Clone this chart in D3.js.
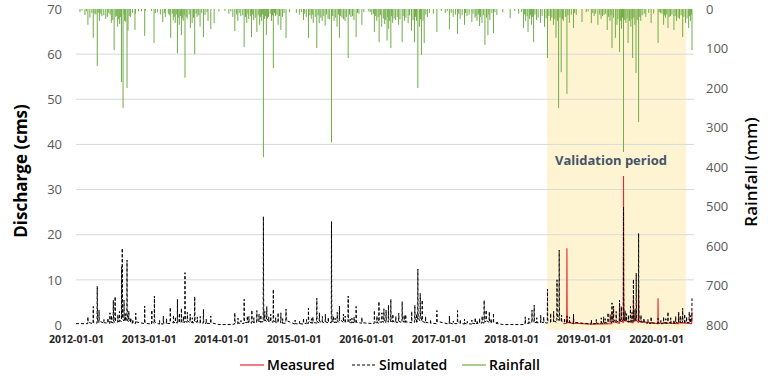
<!DOCTYPE html>
<html><head><meta charset="utf-8">
<script src="https://cdn.jsdelivr.net/npm/d3@7"></script>
<style>
html,body{margin:0;padding:0;background:#fff;}
svg{display:block;font-family:"Open Sans","Noto Sans",sans-serif;}
</style></head>
<body><svg id="c" width="775" height="379"></svg>
<script>
// ---- data (day = days since 2012-01-01) ----
const startDate = "2012-01-01";
const endDate = "2020-06-30";
const validationStart = "2018-07-01";
const validationEnd = "2020-06-01";
const leftTicks = [0,10,20,30,40,50,60,70];
const rightTicks = [0,100,200,300,400,500,600,700,800];
const xTickLabels = ["2012-01-01","2013-01-01","2014-01-01","2015-01-01","2016-01-01","2017-01-01","2018-01-01","2019-01-01","2020-01-01"];
const seriesNames = ["Measured","Simulated","Rainfall"];

// rainfall events [day, mm] - larger events
const rainfall = [
[20,8],[45,15],[60,40],[70,22],[87,73],[95,12],[107,144],[118,30],[130,18],[150,25],[165,10],[178,35],[185,28],[192,104],[200,20],[210,45],[220,38],[229,185],[237,251],[245,30],[257,200],[262,55],[275,20],[297,53],[300,12],[330,6],[346,68],[350,4],
[380,5],[393,86],[400,10],[425,14],[437,33],[450,20],[465,12],[477,73],[490,28],[500,35],[511,112],[520,40],[531,66],[540,30],[549,174],[560,25],[576,48],[585,35],[598,114],[610,20],[625,45],[642,71],[650,15],[665,30],[679,51],[696,36],[720,6],
[750,5],[770,12],[790,20],[800,56],[815,30],[830,18],[847,96],[860,35],[870,25],[884,71],[895,28],[911,58],[925,40],[935,30],[944,375],[950,25],[959,66],[970,20],[985,30],[994,150],[1005,18],[1018,40],[1032,53],[1040,20],[1058,73],[1075,8],
[1110,10],[1125,14],[1146,28],[1160,20],[1171,73],[1185,25],[1195,35],[1213,99],[1225,36],[1240,30],[1255,42],[1270,25],[1287,337],[1300,30],[1315,45],[1327,73],[1340,22],[1355,30],[1371,124],[1385,20],[1400,28],[1411,71],[1425,12],[1440,40],[1450,8],
[1475,6],[1490,15],[1503,58],[1515,30],[1527,84],[1540,45],[1555,38],[1567,80],[1575,50],[1586,99],[1595,35],[1610,28],[1625,40],[1643,84],[1655,30],[1673,36],[1690,55],[1705,84],[1715,30],[1722,200],[1730,45],[1740,116],[1754,86],[1770,20],[1800,12],[1818,58],
[1840,5],[1860,10],[1881,51],[1900,20],[1922,63],[1935,25],[1957,40],[1970,18],[1994,33],[2010,22],[2020,30],[2033,43],[2045,35],[2060,91],[2075,66],[2085,28],[2103,61],[2120,15],[2150,8],
[2187,23],[2210,5],[2230,12],[2254,48],[2265,30],[2277,58],[2285,25],[2295,40],[2305,84],[2320,28],[2340,35],[2360,45],[2375,124],[2390,30],[2405,40],[2418,73],[2431,251],[2444,160],[2455,30],[2473,215],[2485,35],[2506,48],[2520,15],[2549,33],
[2570,8],[2596,36],[2610,18],[2629,40],[2645,25],[2660,15],[2676,53],[2690,30],[2700,99],[2717,73],[2725,40],[2738,109],[2748,50],[2758,362],[2770,35],[2781,86],[2795,45],[2804,124],[2815,40],[2821,162],[2834,286],[2845,30],[2870,20],[2897,36],[2910,12],
[2932,86],[2945,10],[2960,40],[2970,22],[2982,48],[2995,18],[3012,53],[3025,30],[3040,25],[3056,71],[3070,35],[3086,48],[3095,30],[3103,104]
];
// rainfall events [day, mm] - small daily rain
const rainfallSmall = [
[30,4],[52,6],[80,10],[100,14],[112,9],[125,12],[140,16],[158,20],[172,14],[205,18],[215,26],[225,20],[242,14],[250,32],[268,18],[285,10],[315,6],
[410,8],[445,10],[470,16],[485,12],[495,20],[505,14],[515,22],[527,18],[535,24],[545,16],[555,20],[570,14],[592,22],[605,12],[618,16],[633,10],[660,8],
[780,6],[808,14],[822,10],[840,16],[854,20],[866,12],[878,18],[890,14],[903,22],[918,16],[930,20],[940,14],[955,18],[965,24],[978,12],[990,16],[1000,10],[1012,14],[1025,18],[1048,10],
[1135,8],[1152,12],[1178,16],[1190,14],[1205,20],[1220,16],[1233,22],[1248,18],[1262,14],[1278,26],[1293,18],[1308,22],[1322,14],[1333,18],[1348,26],[1362,20],[1378,14],[1393,18],[1418,10],
[1482,8],[1498,12],[1508,18],[1522,20],[1533,16],[1548,24],[1560,28],[1570,20],[1580,30],[1590,18],[1602,24],[1618,20],[1632,26],[1648,18],[1662,22],[1680,16],[1698,28],[1710,20],[1735,26],[1748,30],[1762,14],[1780,10],
[1870,6],[1890,10],[1912,14],[1928,12],[1945,16],[1962,10],[1980,14],[2000,12],[2015,18],[2027,14],[2038,20],[2052,16],[2068,22],[2080,14],[2095,10],[2110,8],
[2245,8],[2260,14],[2272,18],[2290,16],[2300,20],[2312,14],[2328,22],[2348,18],[2368,24],[2382,18],[2397,22],[2412,26],[2425,30],[2438,22],[2450,26],[2465,20],[2478,16],[2495,14],[2512,10],
[2580,6],[2603,10],[2618,12],[2638,14],[2652,18],[2668,12],[2683,20],[2695,16],[2708,22],[2730,26],[2742,30],[2753,22],[2764,28],[2776,24],[2788,30],[2800,26],[2810,22],[2827,28],[2840,20],[2852,16],[2862,12],[2885,10],
[2938,8],[2952,12],[2965,16],[2976,14],[2988,20],[3002,14],[3018,18],[3033,22],[3048,16],[3062,20],[3078,24],[3090,18],[3100,14]
];

// simulated discharge events [startDay, daily cms values]
const simulated = [
[0,[0.3]],[59,[0.3,1.8,0.6]],[86,[0.3,4.1,1.0,0.5]],[106,[0.4,8.6,2.4,1.0,0.6]],[115,[0.5,3.3,0.9]],[140,[0.4,1.2,0.5]],[160,[0.4,1.5,0.5]],[170,[0.3,2.7,0.8]],[178,[0.5,2.1,0.7]],[187,[0.4,5.5,1.6,0.8]],[196,[0.6,6.3,2.0,0.9]],
[210,[0.6,2.3,0.8]],[218,[0.7,3.0,1.0]],[229,[0.8,12.9,4.0,1.5,17.0,5.2,2.0,1.2]],[241,[0.9,5.5,1.8,1.0]],[248,[0.9,2.5,1.0]],[256,[0.8,14.4,4.1,1.6,0.9]],[265,[0.8,3.1,1.1]],[275,[0.6,1.6,0.5]],[285,[0.4,1.2,0.4]],[300,[0.3,2.6,0.7]],[345,[0.3,4.2,1.1,0.4]],
[381,[0.2,3.3,0.8]],[394,[0.3,6.4,1.7,0.6]],[420,[0.2,1.0,0.3]],[439,[0.2,2.0,0.5]],[455,[0.3,1.4,0.4]],[474,[0.3,3.9,1.0]],[490,[0.4,2.2,0.6]],[500,[0.5,1.8,0.6]],[510,[0.4,5.7,1.6,0.7]],[520,[0.5,2.6,0.8]],[530,[0.5,3.7,1.0,0.6]],[540,[0.6,1.9,0.6]],[548,[0.6,11.6,3.3,1.4,0.8]],
[560,[0.6,2.8,0.9]],[574,[0.5,2.4,0.8]],[585,[0.5,1.6,0.5]],[597,[0.5,6.3,1.9,0.8]],[610,[0.6,1.8,0.7]],[625,[0.4,1.9,0.5]],[641,[0.4,3.5,1.0,0.5]],[655,[0.3,1.3,0.4]],[678,[0.3,2.0,0.5]],[720,[0.1]],[780,[0.1]],
[799,[0.2,2.7,0.7]],[815,[0.3,1.5,0.4]],[830,[0.4,1.0,0.4]],[846,[0.3,5.7,1.5,0.6]],[862,[0.5,2.0,0.6]],[870,[0.5,1.9,0.6]],[885,[0.4,3.3,1.0]],[895,[0.5,1.6,0.5]],[910,[0.5,3.2,1.0]],[921,[0.6,2.4,0.8]],[930,[0.6,2.2,0.7]],[943,[0.7,24.0,6.5,2.5,1.3,0.9]],
[950,[0.9,3.0,1.1]],[960,[0.8,4.1,1.4]],[970,[0.8,1.8,0.7]],[980,[0.7,2.4,0.8]],[993,[0.6,7.9,2.3,1.0]],[1005,[0.6,1.6,0.5]],[1017,[0.5,2.7,0.9]],[1031,[0.5,2.7,0.9]],[1040,[0.4,1.4,0.4]],[1057,[0.4,3.5,1.0]],[1103,[0.2,1.1,0.3]],[1125,[0.2,0.8,0.3]],[1145,[0.2,1.5,0.4]],
[1160,[0.3,1.2,0.4]],[1170,[0.3,3.7,1.0]],[1185,[0.4,1.4,0.5]],[1192,[0.4,1.8,0.6]],[1212,[0.4,5.9,1.7,0.7]],[1225,[0.5,2.7,0.8]],[1240,[0.5,1.9,0.6]],[1255,[0.5,2.4,0.7]],[1270,[0.5,1.7,0.6]],[1286,[0.5,22.9,6.0,2.2,1.1,0.7]],[1295,[0.7,2.0,0.7]],[1304,[0.5,1.5,0.6]],[1315,[0.6,2.8,0.9]],
[1326,[0.5,4.2,1.3]],[1346,[0.6,2.4,0.8]],[1355,[0.6,2.0,0.7]],[1370,[0.6,6.4,1.9,0.9]],[1380,[0.5,1.3,0.5]],[1389,[0.5,1.5,0.6]],[1400,[0.5,1.8,0.6]],[1410,[0.5,4.1,1.2,0.6]],[1439,[0.4,1.7,0.5]],
[1502,[0.3,3.2,0.9]],[1515,[0.4,2.0,0.6]],[1525,[0.4,5.2,1.5,0.7]],[1540,[0.6,2.7,0.8]],[1550,[0.6,3.6,1.1]],[1561,[0.5,3.3,1.0]],[1573,[0.6,4.4,1.3]],[1585,[0.7,5.7,1.6,0.8]],[1595,[0.7,2.4,0.8]],[1610,[0.6,1.9,0.6]],[1625,[0.6,2.6,0.8]],[1642,[0.5,5.2,1.5]],[1652,[0.6,2.2,0.7]],[1660,[0.6,2.3,0.7]],
[1690,[0.5,3.0,0.9]],[1706,[0.6,4.4,1.3]],[1715,[0.6,2.5,0.8]],[1721,[0.7,12.4,3.5,1.5]],[1733,[0.9,7.0,2.0]],[1743,[0.9,5.5,1.6,0.8]],[1760,[0.5,1.9,0.6]],[1785,[0.4,1.2,0.4]],[1817,[0.3,3.2,0.8]],[1880,[0.2,2.0,0.5]],[1900,[0.2,0.9,0.3]],[1921,[0.3,3.2,0.8]],
[1935,[0.3,1.2,0.4]],[1956,[0.2,1.3,0.4]],[1970,[0.2,0.8,0.3]],[1993,[0.2,1.1,0.4]],[2010,[0.3,1.6,0.4]],[2020,[0.3,1.0,0.3]],[2032,[0.3,1.5,0.5]],[2045,[0.4,2.0,0.6]],[2055,[0.4,5.5,1.6,0.8]],[2065,[0.7,3.3,1.0]],[2081,[0.6,2.9,0.9]],[2090,[0.5,1.4,0.5]],[2102,[0.5,2.6,0.7]],[2120,[0.3,0.9,0.3]],
[2150,[0.1]],[2230,[0.1]],[2262,[0.1,1.8,0.5]],[2280,[0.3,1.5,0.5]],[2296,[0.4,3.3,1.0]],[2307,[0.6,4.4,1.3,0.6]],[2320,[0.5,1.6,0.5]],[2340,[0.5,2.2,0.7]],[2355,[0.5,1.8,0.6]],[2374,[0.4,7.9,2.2,0.9]],[2390,[0.6,2.6,0.8]],[2405,[0.7,3.0,0.9]],[2422,[0.6,10.0,3.0,1.4]],[2433,[1.0,16.6,4.5,1.8,1.0]],
[2445,[0.8,2.2,0.8]],[2460,[0.6,1.5,0.6]],[2472,[0.5,2.0,0.6]],[2485,[0.5,1.8,0.6]],[2505,[0.3,2.4,0.6]],[2595,[0.2,1.1,0.3]],[2620,[0.3,1.2,0.4]],[2645,[0.3,1.6,0.5]],[2657,[0.3,1.8,0.5]],[2665,[0.4,1.4,0.5]],[2679,[0.4,2.7,0.8]],[2690,[0.5,2.3,0.7]],[2699,[0.5,4.9,1.4]],[2707,[0.6,4.2,1.2]],
[2720,[0.5,3.0,0.9]],[2737,[0.6,5.5,1.6]],[2746,[0.7,4.1,1.3]],[2757,[0.8,26.2,7.0,2.6,1.3]],[2765,[0.9,3.2,1.1]],[2772,[0.8,2.5,0.9]],[2782,[0.6,2.2,0.8]],[2792,[0.7,4.1,1.3]],[2800,[0.7,2.8,0.9]],[2807,[0.8,10.1,3.0,1.3]],[2815,[0.8,3.5,1.1]],
[2821,[0.9,11.5,3.4,1.5]],[2833,[1.0,20.3,5.5,2.0,1.0]],[2845,[0.6,2.2,0.7]],[2860,[0.5,1.5,0.5]],[2880,[0.4,1.2,0.4]],[2896,[0.3,1.8,0.5]],[2931,[0.3,1.5,0.4]],[2945,[0.3,1.0,0.3]],[2959,[0.3,1.8,0.5]],[2970,[0.4,1.4,0.4]],[2981,[0.4,2.9,0.8]],[2995,[0.4,1.6,0.5]],
[3011,[0.3,1.1,0.4]],[3020,[0.4,1.9,0.6]],[3035,[0.4,2.9,0.8]],[3045,[0.5,2.0,0.6]],[3055,[0.5,3.7,1.0]],[3065,[0.5,2.4,0.7]],[3075,[0.5,1.8,0.6]],[3088,[0.5,2.9,0.9]],[3095,[0.5,2.1,0.7]],[3101,[0.6,1.5,5.9]]
];

// measured discharge events (validation period) [startDay, daily cms values]
const measured = [
[2455,[0.3]],[2472,[0.4,17.0,4.0,1.2,0.6]],[2505,[0.3,1.5,0.4]],[2600,[0.2]],[2699,[0.3,3.0,0.8]],[2737,[0.4,4.0,1.0]],
[2757,[0.6,33.0,8.0,2.5,1.0]],[2807,[0.5,6.0,1.5]],[2833,[0.6,8.0,2.0,0.8]],[2931,[0.3,5.9,1.2,0.5]],[3035,[0.3,2.0,0.5]],[3101,[0.3,0.6,3.0]]
];

// ---- drawing ----
const parse = d3.timeParse("%Y-%m-%d");
const t0 = parse(startDate);
const dayToDate = d => d3.timeDay.offset(t0, d);
const svg = d3.select("#c");
const x = d3.scaleTime().domain([t0, parse(endDate)]).range([76, 692]);
const yL = d3.scaleLinear().domain([0,70]).range([325, 9]);
const yR = d3.scaleLinear().domain([0,800]).range([9, 325]);

// validation shade
svg.append("rect").attr("x", x(parse(validationStart))).attr("y", yL(70))
  .attr("width", x(parse(validationEnd)) - x(parse(validationStart)))
  .attr("height", yL(0) - yL(70) + 5).attr("fill", "#fff4d2");

// gridlines
svg.append("g").selectAll("line").data(leftTicks.filter(d=>d>0 && d<70)).join("line")
  .attr("x1", 76).attr("x2", 694).attr("y1", d=>yL(d)).attr("y2", d=>yL(d))
  .attr("stroke", "#d9d9d9").attr("stroke-width", 1);

// left axis
const gL = svg.append("g").attr("transform","translate(64,0)")
  .call(d3.axisLeft(yL).tickValues(leftTicks).tickSize(0).tickPadding(2));
gL.select(".domain").remove();
gL.selectAll("text").attr("font-size", 13).attr("fill", "#595959").attr("font-family","'Open Sans',sans-serif");

// right axis
const gR = svg.append("g").attr("transform","translate(704,0)")
  .call(d3.axisRight(yR).tickValues(rightTicks).tickSize(0).tickPadding(2));
gR.select(".domain").remove();
gR.selectAll("text").attr("font-size", 13).attr("fill", "#595959").attr("font-family","'Open Sans',sans-serif");

// x axis
const gX = svg.append("g").attr("transform","translate(0,333)")
  .call(d3.axisBottom(x).tickValues(xTickLabels.map(parse)).tickFormat(d3.timeFormat("%Y-%m-%d")).tickSize(0).tickPadding(3));
gX.select(".domain").remove();
gX.selectAll("text").attr("font-size", 10.5).attr("font-weight", 700).attr("fill", "#262626").attr("font-family","'Open Sans',sans-serif");

// rainfall bars (hanging from top)
svg.append("g").selectAll("rect").data(rainfall.concat(rainfallSmall)).join("rect")
  .attr("x", d => x(dayToDate(d[0])) - 0.5).attr("width", 1)
  .attr("y", yR(0)).attr("height", d => yR(d[1]) - yR(0))
  .attr("fill", "#70ad47");

function expand(events){
  const pts = [];
  events.slice().sort((a,b)=>a[0]-b[0]).forEach(([s, vals]) => vals.forEach((v,i) => pts.push([dayToDate(s+i), v])));
  return pts;
}
const line = d3.line().x(d=>x(d[0])).y(d=>yL(d[1]));

svg.append("path").datum(expand(measured)).attr("d", line)
  .attr("fill","none").attr("stroke","#e8262d").attr("stroke-width",1.1);
svg.append("path").datum(expand(simulated)).attr("d", line)
  .attr("fill","none").attr("stroke","#000").attr("stroke-width",1).attr("stroke-dasharray","3,2");

// validation label
svg.append("text").attr("x", 555).attr("y", 165).text("Validation period")
  .attr("font-size", 13).attr("font-weight", 700).attr("fill", "#44546a");

// axis titles
svg.append("text").attr("transform","translate(27,171) rotate(-90)").attr("text-anchor","middle")
  .text("Discharge (cms)").attr("font-size", 17).attr("font-weight", 700).attr("fill","#000");
svg.append("text").attr("transform","translate(757,172) rotate(-90)").attr("text-anchor","middle")
  .text("Rainfall (mm)").attr("font-size", 17).attr("font-weight", 600).attr("fill","#000");

// legend
const leg = svg.append("g");
const legItems = [
  {name: seriesNames[0], x: 240, color: "#e8262d", dash: null},
  {name: seriesNames[1], x: 352, color: "#000", dash: "3,2"},
  {name: seriesNames[2], x: 462, color: "#70ad47", dash: null}
];
legItems.forEach(it => {
  leg.append("line").attr("x1", it.x).attr("x2", it.x+24).attr("y1", 365).attr("y2", 365)
    .attr("stroke", it.color).attr("stroke-width", 1.2).attr("stroke-dasharray", it.dash);
  leg.append("text").attr("x", it.x+27).attr("y", 370).text(it.name)
    .attr("font-size", 14).attr("font-weight", 600).attr("fill", "#000");
});
</script></body></html>
